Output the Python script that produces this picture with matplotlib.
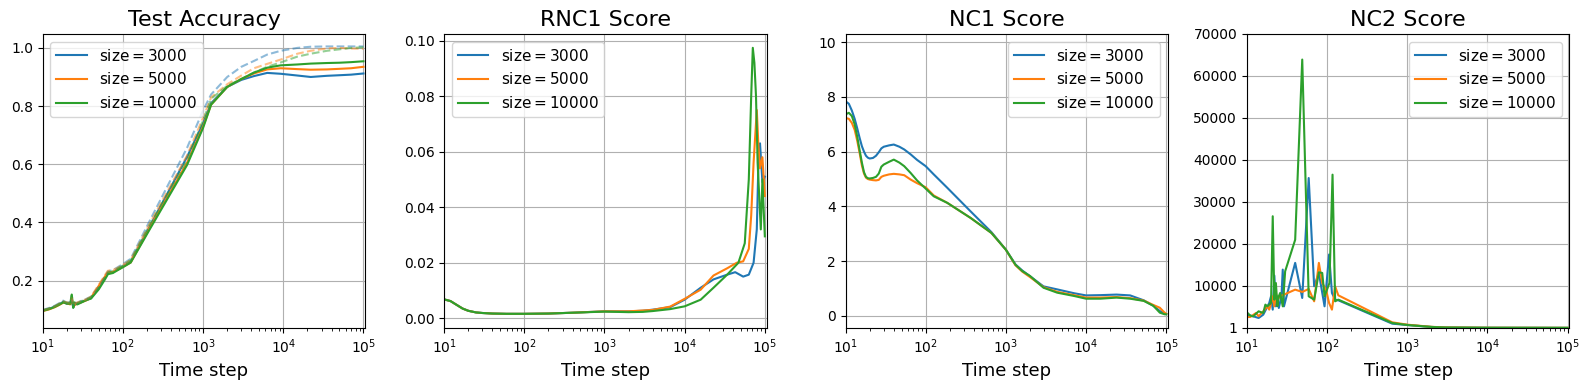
### Script description ###
# Test accuracy, RNC1, NC1 and NC2 scores vs. time step for three dataset sizes
### Packages ###
import matplotlib
matplotlib.use('Agg')
import matplotlib.pyplot as plt

##### data #####
sizes = [3000, 5000, 10000]
colors = ['#1f77b4', '#ff7f0e', '#2ca02c']

# Test accuracy (solid) and train accuracy (dashed, faded)
steps_acc = [10, 12, 14, 16, 18, 20, 22, 23, 24, 25, 27, 30, 35, 40, 50, 60, 65, 75, 85, 100,
             125, 220, 630, 1000, 1260, 2000, 3000, 4300, 6300, 9300, 15000, 22000, 35000,
             50000, 70000, 100000]
test_acc_3000 = [0.097, 0.103, 0.110, 0.118, 0.127, 0.120, 0.122, 0.135, 0.108, 0.118, 0.120,
                 0.126, 0.133, 0.140, 0.175, 0.210, 0.225, 0.228, 0.238, 0.249, 0.265, 0.390,
                 0.625, 0.740, 0.810, 0.866, 0.890, 0.903, 0.914, 0.911, 0.905, 0.900, 0.904,
                 0.906, 0.908, 0.912]
test_acc_5000 = [0.095, 0.101, 0.108, 0.116, 0.124, 0.122, 0.118, 0.138, 0.110, 0.116, 0.121,
                 0.125, 0.132, 0.141, 0.182, 0.215, 0.228, 0.230, 0.236, 0.247, 0.262, 0.385,
                 0.605, 0.730, 0.805, 0.866, 0.893, 0.912, 0.926, 0.930, 0.927, 0.925, 0.926,
                 0.928, 0.930, 0.935]
test_acc_10000 = [0.096, 0.102, 0.109, 0.117, 0.125, 0.121, 0.120, 0.152, 0.106, 0.125, 0.118,
                  0.124, 0.133, 0.138, 0.170, 0.205, 0.222, 0.226, 0.235, 0.246, 0.262, 0.380,
                  0.597, 0.725, 0.805, 0.866, 0.893, 0.915, 0.932, 0.940, 0.943, 0.946, 0.948,
                  0.949, 0.951, 0.954]
train_acc_3000 = [0.099, 0.106, 0.113, 0.122, 0.131, 0.124, 0.126, 0.137, 0.112, 0.121, 0.124,
                  0.130, 0.137, 0.145, 0.180, 0.216, 0.232, 0.236, 0.245, 0.257, 0.275, 0.410,
                  0.656, 0.785, 0.840, 0.900, 0.935, 0.955, 0.977, 0.990, 1.000, 1.004, 1.005,
                  1.005, 1.005, 1.005]
train_acc_5000 = [0.098, 0.104, 0.111, 0.120, 0.128, 0.125, 0.122, 0.140, 0.114, 0.120, 0.125,
                  0.129, 0.136, 0.145, 0.186, 0.220, 0.234, 0.236, 0.243, 0.254, 0.271, 0.400,
                  0.630, 0.760, 0.830, 0.875, 0.905, 0.930, 0.945, 0.960, 0.980, 0.990, 0.998,
                  1.000, 0.998, 0.997]
train_acc_10000 = [0.098, 0.104, 0.111, 0.120, 0.128, 0.124, 0.123, 0.150, 0.112, 0.126, 0.122,
                   0.128, 0.136, 0.142, 0.175, 0.211, 0.228, 0.232, 0.241, 0.252, 0.270, 0.395,
                   0.615, 0.750, 0.825, 0.870, 0.893, 0.915, 0.935, 0.950, 0.970, 0.980, 0.990,
                   0.995, 1.000, 1.002]

# RNC1 score
steps_rnc_3000 = [10, 12, 14, 17, 20, 25, 30, 40, 60, 100, 200, 400, 1000, 2000, 3000, 4000,
                  6600, 10000, 15850, 22900, 33900, 42700, 53700, 63100, 72400, 79400, 83200,
                  87100, 93300, 100000]
rnc1_3000 = [0.0068, 0.0062, 0.0050, 0.0035, 0.0027, 0.0021, 0.0019, 0.0017, 0.0016, 0.0016,
             0.0017, 0.0020, 0.0025, 0.0025, 0.0027, 0.0031, 0.0040, 0.0067, 0.0110, 0.0140,
             0.0157, 0.0166, 0.0150, 0.0157, 0.0200, 0.0320, 0.0560, 0.0630, 0.0490, 0.0510]
steps_rnc_5000 = [10, 12, 14, 17, 20, 25, 30, 40, 60, 100, 200, 400, 1000, 2000, 3000, 4000,
                  6600, 10000, 15850, 22900, 33900, 44700, 53700, 63100, 67600, 72400, 79400,
                  83200, 87100, 93300, 100000]
rnc1_5000 = [0.0068, 0.0062, 0.0050, 0.0035, 0.0027, 0.0021, 0.0019, 0.0017, 0.0016, 0.0016,
             0.0017, 0.0020, 0.0025, 0.0025, 0.0028, 0.0030, 0.0042, 0.0070, 0.0103, 0.0154,
             0.0180, 0.0200, 0.0205, 0.0250, 0.0370, 0.0560, 0.0750, 0.0620, 0.0540, 0.0580,
             0.0440]
steps_rnc_10000 = [10, 12, 14, 17, 20, 25, 30, 40, 60, 100, 200, 400, 1000, 2000, 3000, 4000,
                   6600, 10000, 15850, 22900, 33900, 46800, 56200, 63100, 67600, 70800, 74100,
                   77600, 81300, 85100, 89100, 93300, 100000]
rnc1_10000 = [0.0068, 0.0062, 0.0050, 0.0035, 0.0027, 0.0021, 0.0019, 0.0017, 0.0016, 0.0016,
              0.0017, 0.0020, 0.0024, 0.0022, 0.0023, 0.0026, 0.0033, 0.0043, 0.0067, 0.0110,
              0.0157, 0.0200, 0.0270, 0.0500, 0.0800, 0.0974, 0.0920, 0.0800, 0.0560, 0.0440,
              0.0320, 0.0500, 0.0295]

# NC1 score
steps_nc1 = [10, 11, 12, 13, 14, 15, 16, 17, 18, 19, 20, 22, 24, 26, 28, 30, 35, 40, 47, 54,
             65, 78, 100, 126, 186, 363, 661, 1000, 1318, 1600, 2000, 2950, 4365, 7080, 10000,
             15100, 24000, 35500, 52500, 69200, 83200, 95500, 100000]
nc1_3000 = [7.84, 7.75, 7.50, 7.20, 6.85, 6.50, 6.20, 6.00, 5.85, 5.78, 5.75, 5.77, 5.85, 5.98,
            6.12, 6.18, 6.23, 6.26, 6.18, 6.08, 5.90, 5.70, 5.47, 5.17, 4.68, 3.82, 3.06, 2.42,
            1.88, 1.66, 1.45, 1.08, 0.97, 0.83, 0.75, 0.76, 0.78, 0.75, 0.57, 0.37, 0.18, 0.08,
            0.07]
nc1_5000 = [7.23, 7.20, 7.05, 6.80, 6.40, 5.95, 5.50, 5.20, 5.05, 5.00, 4.98, 4.96, 4.95, 4.97,
            5.08, 5.12, 5.17, 5.19, 5.17, 5.14, 4.98, 4.85, 4.70, 4.40, 4.13, 3.58, 3.03, 2.42,
            1.85, 1.62, 1.42, 1.05, 0.88, 0.76, 0.67, 0.67, 0.69, 0.65, 0.56, 0.40, 0.30, 0.12,
            0.08]
nc1_10000 = [7.36, 7.42, 7.30, 7.00, 6.55, 6.05, 5.60, 5.25, 5.08, 5.03, 5.02, 5.04, 5.08, 5.20,
             5.45, 5.53, 5.63, 5.71, 5.60, 5.47, 5.22, 4.95, 4.65, 4.37, 4.13, 3.58, 3.03, 2.42,
             1.87, 1.64, 1.46, 1.03, 0.85, 0.73, 0.63, 0.63, 0.67, 0.63, 0.55, 0.37, 0.12, 0.06,
             0.06]

# NC2 score
steps_nc2_3000 = [10, 12, 14, 16, 19, 20, 21, 22, 23, 24, 25, 27, 28, 29, 40, 49, 59, 69, 79,
                  93, 106, 115, 126, 138, 650, 1000, 2000, 3000, 10000, 100000]
nc2_3000 = [3180, 2780, 2380, 3180, 5950, 7540, 4370, 12470, 5160, 7540, 4760, 7540, 13900,
            5160, 15500, 7150, 35700, 9930, 13100, 5160, 17500, 8340, 6750, 6600, 1030, 715,
            250, 120, 60, 40]
steps_nc2_5000 = [10, 11, 13, 14, 16, 18, 19, 20, 21, 22, 23, 24, 26, 40, 49, 59, 69, 79, 87,
                  97, 106, 115, 126, 138, 650, 1000, 2000, 3000, 10000, 100000]
nc2_5000 = [2620, 2620, 3570, 2800, 3970, 5160, 4370, 5950, 7540, 5160, 8340, 6750, 7540, 9130,
            8580, 9290, 6350, 15500, 10700, 9130, 5950, 4370, 9930, 7780, 1350, 790, 280, 130,
            70, 45]
steps_nc2_10000 = [10, 11, 12, 14, 16, 17, 18, 20, 21, 22, 23, 24, 25, 26, 28, 30, 40, 49, 59,
                   69, 79, 87, 93, 107, 117, 126, 138, 650, 1000, 2000, 3000, 10000, 100000]
nc2_10000 = [3730, 2940, 2780, 3970, 3570, 5560, 5160, 5950, 26600, 6750, 10700, 5200, 7540,
             8340, 5160, 13500, 21000, 63900, 7540, 6750, 13260, 13100, 7540, 10700, 36500,
             6350, 6750, 1190, 715, 250, 120, 60, 40]
nc2_ticks = [1, 10000, 20000, 30000, 40000, 50000, 60000, 70000]

##### Plot the stuff #####
fig, axs = plt.subplots(1, 4, figsize=(15.89, 3.9), dpi=100)
fig.subplots_adjust(left=0.0269, right=0.9876, bottom=0.159, top=0.913, wspace=0.245)

test_all = [test_acc_3000, test_acc_5000, test_acc_10000]
train_all = [train_acc_3000, train_acc_5000, train_acc_10000]
rnc_steps = [steps_rnc_3000, steps_rnc_5000, steps_rnc_10000]
rnc_all = [rnc1_3000, rnc1_5000, rnc1_10000]
nc1_all = [nc1_3000, nc1_5000, nc1_10000]
nc2_steps = [steps_nc2_3000, steps_nc2_5000, steps_nc2_10000]
nc2_all = [nc2_3000, nc2_5000, nc2_10000]

for i, size in enumerate(sizes):
    lab = r'$\mathrm{size} = %d$' % size
    axs[0].plot(steps_acc, test_all[i], color=colors[i], label=lab)
    axs[1].plot(rnc_steps[i], rnc_all[i], color=colors[i], label=lab)
    axs[2].plot(steps_nc1, nc1_all[i], color=colors[i], label=lab)
    axs[3].plot(nc2_steps[i], nc2_all[i], color=colors[i], label=lab)
for i, size in enumerate(sizes):
    axs[0].plot(steps_acc, train_all[i], color=colors[i], ls='--', alpha=0.5)

titles = ['Test Accuracy', 'RNC1 Score', 'NC1 Score', 'NC2 Score']
for ax, title in zip(axs, titles):
    ax.set_xscale('log')
    ax.set_xlim(10, 1.05e5)
    ax.set_title(title, fontsize=16)
    ax.set_xlabel('Time step', fontsize=13)
    ax.grid(True)

axs[0].set_ylim(0.037, 1.048)
axs[1].set_ylim(-0.0035, 0.1024)
axs[2].set_ylim(-0.44, 10.3)
axs[3].set_ylim(1, 70000)
axs[3].set_yticks(nc2_ticks)

axs[0].legend(loc='upper left', fontsize=11)
axs[1].legend(loc='upper left', fontsize=11)
axs[2].legend(loc='upper right', fontsize=11)
axs[3].legend(loc='upper right', fontsize=11)

plt.savefig('out.png')
